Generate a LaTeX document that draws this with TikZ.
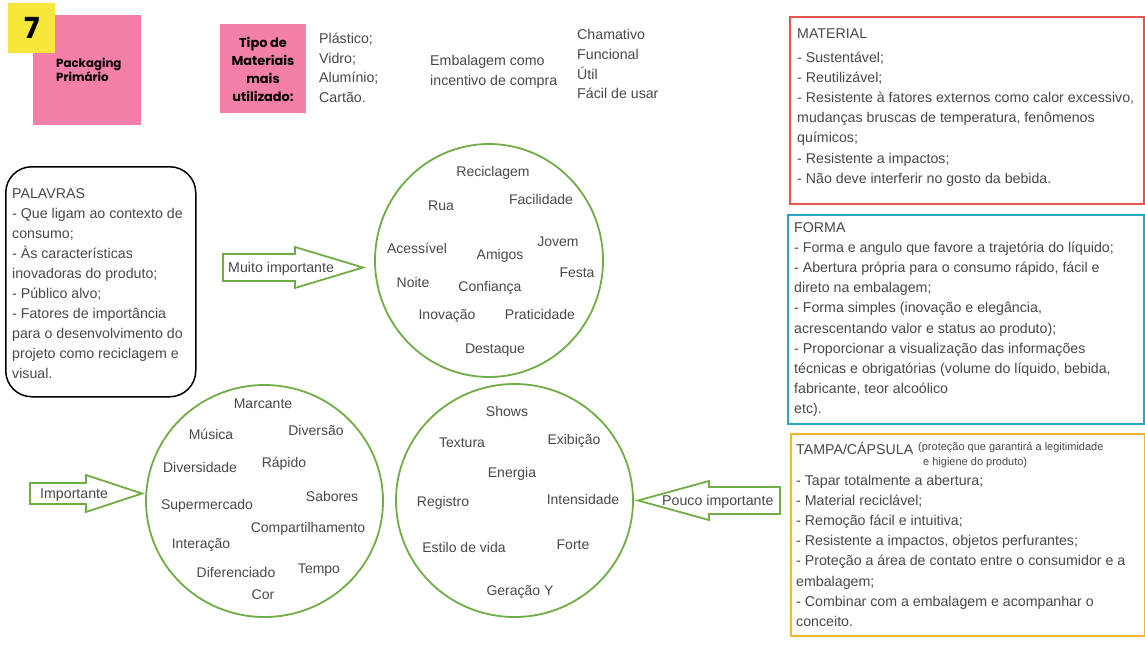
\documentclass[tikz,border=0pt]{standalone}
\usepackage{fontspec}
\setmainfont{Liberation Sans}
\newfontfamily\popfont{Poppins}
\usetikzlibrary{shapes.geometric}

\definecolor{txtgray}{HTML}{484848}
\definecolor{leaf}{HTML}{71AD47}
\definecolor{pinkbox}{HTML}{F57FAB}
\definecolor{yellowbox}{HTML}{F6E73A}
\definecolor{redline}{HTML}{E8534B}
\definecolor{tealline}{HTML}{2AA7BE}
\definecolor{goldline}{HTML}{F2B52C}

% left-aligned and centred line stacks whose base is the first line's baseline
\newcommand\stackl[1]{\begin{tabular}[t]{@{}l@{}}#1\end{tabular}}
\newcommand\stackc[1]{\begin{tabular}[t]{@{}c@{}}#1\end{tabular}}

\begin{document}
\begin{tikzpicture}[x=1pt,y=-1pt,
  body/.style={anchor=base west, inner sep=0pt, text=txtgray,
    font=\fontsize{14.2}{20.1}\selectfont},
  word/.style={anchor=base, inner sep=0pt, text=txtgray,
    font=\fontsize{14}{16}\selectfont},
  ring/.style={ellipse, draw=leaf, line width=1.8pt, inner sep=0pt},
  blockarrow/.style={draw=leaf, line width=1.8pt, fill=white, line join=miter},
  infobox/.style={draw, line width=1.8pt, fill=white, anchor=north west, inner sep=0pt},
  tag/.style={fill=pinkbox, anchor=north west, inner sep=0pt},
  tagtext/.style={inner sep=0pt, text=black,
    font=\popfont\bfseries\fontsize{11.8}{14}\selectfont}]

\useasboundingbox[fill=white] (0,0) rectangle (1145,646);

% ---- header tags ----
\node[tag, minimum width=108pt, minimum height=110pt] (pkg) at (33,15) {};
\node[fill=yellowbox, anchor=north west, inner sep=0pt,
      minimum width=47pt, minimum height=50pt] (num) at (8,3) {};
\node[inner sep=0pt, font=\popfont\bfseries\fontsize{29}{30}\selectfont] (numtext) at (32,28) {7};
\node[tagtext, anchor=base west] (pkgtext) at (56,67) {\stackl{Packaging\\Primário}};

\node[tag, minimum width=86pt, minimum height=89pt] (mat) at (220,24) {};
\node[tagtext, anchor=base, font=\popfont\bfseries\fontsize{12.9}{17.9}\selectfont]
  (mattext) at (263,47.5) {\stackc{Tipo de\\Materiais\\mais\\utilizado:}};

\node[body, font=\fontsize{14.2}{19.7}\selectfont] (matlist) at (319,43.5)
  {\stackl{Plástico;\\Vidro;\\Alumínio;\\Cartão.}};
\node[body, font=\fontsize{14.2}{20}\selectfont] (incent) at (430,65.5)
  {\stackl{Embalagem como\\incentivo de compra}};
\node[body, font=\fontsize{14.2}{19.8}\selectfont] (qual) at (577,39.5)
  {\stackl{Chamativo\\Funcional\\Útil\\Fácil de usar}};

% ---- requirement boxes ----
\node[infobox, draw=redline, minimum width=354pt, minimum height=187pt] (matbox) at (789,16) {};
\node[body] (mathead) at (797,38) {MATERIAL};
\node[body] (matbody) at (797,62.5) {\stackl{%
- Sustentável;\\
- Reutilizável;\\
- Resistente à fatores externos como calor excessivo,\\
mudanças bruscas de temperatura, fenômenos\\
químicos;\\
- Resistente a impactos;\\
- Não deve interferir no gosto da bebida.}};

\node[infobox, draw=tealline, minimum width=356pt, minimum height=209pt] (formbox) at (787,214) {};
\node[body] (formbody) at (794,232.5) {\stackl{%
FORMA\\
- Forma e angulo que favore a trajetória do líquido;\\
- Abertura própria para o consumo rápido, fácil e\\
direto na embalagem;\\
- Forma simples (inovação e elegância,\\
acrescentando valor e status ao produto);\\
- Proporcionar a visualização das informações\\
técnicas e obrigatórias (volume do líquido, bebida,\\
fabricante, teor alcoólico\\
etc).}};

\node[infobox, draw=goldline, minimum width=354pt, minimum height=202pt] (capbox) at (790,433) {};
\node[body] (caphead) at (796,454) {TAMPA/CÁPSULA};
\node[body, font=\fontsize{11}{15}\selectfont] (capnote) at (918,450)
  {\stackl{(proteção que garantirá a legitimidade\\\hspace{5pt}e higiene do produto)}};
\node[body] (capbody) at (796,485.5) {\stackl{%
- Tapar totalmente a abertura;\\
- Material reciclável;\\
- Remoção fácil e intuitiva;\\
- Resistente a impactos, objetos perfurantes;\\
- Proteção a área de contato entre o consumidor e a\\
embalagem;\\
- Combinar com a embalagem e acompanhar o\\
conceito.}};

% ---- word criteria ----
\node[draw=black, line width=1.5pt, rounded corners=26pt, anchor=north west, inner sep=0pt,
      minimum width=190pt, minimum height=230pt] (palbox) at (5,166) {};
\node[body, font=\fontsize{14.2}{20}\selectfont] (paltext) at (12,198.5) {\stackl{%
PALAVRAS\\
- Que ligam ao contexto de\\
consumo;\\
- Às características\\
inovadoras do produto;\\
- Público alvo;\\
- Fatores de importância\\
para o desenvolvimento do\\
projeto como reciclagem e\\
visual.}};

% ---- word circles ----
\node[ring, minimum width=228pt, minimum height=233pt] (c1) at (489,260.5) {};
\node[ring, minimum width=237pt, minimum height=232pt] (c2) at (264.5,501) {};
\node[ring, minimum width=237pt, minimum height=233pt] (c3) at (514.5,500.5) {};

% very important
\node[word] (w11) at (493,176) {Reciclagem};
\node[word] (w12) at (441,210) {Rua};
\node[word] (w13) at (541,204) {Facilidade};
\node[word] (w14) at (417,253) {Acessível};
\node[word] (w15) at (500,259) {Amigos};
\node[word] (w16) at (558,246) {Jovem};
\node[word] (w17) at (577,277) {Festa};
\node[word] (w18) at (413,287) {Noite};
\node[word] (w19) at (490,291) {Confiança};
\node[word] (w110) at (447,319) {Inovação};
\node[word] (w111) at (540,319) {Praticidade};
\node[word] (w112) at (495,353) {Destaque};

% important
\node[word] (w21) at (263,408) {Marcante};
\node[word] (w22) at (211,439) {Música};
\node[word] (w23) at (316,435) {Diversão};
\node[word] (w24) at (200,472) {Diversidade};
\node[word] (w25) at (284,467) {Rápido};
\node[word] (w26) at (207,509) {Supermercado};
\node[word] (w27) at (332,501) {Sabores};
\node[word] (w28) at (308,532) {Compartilhamento};
\node[word] (w29) at (201,548) {Interação};
\node[word] (w210) at (236,577) {Diferenciado};
\node[word] (w211) at (319,573) {Tempo};
\node[word] (w212) at (263,599) {Cor};

% less important
\node[word] (w31) at (507,416) {Shows};
\node[word] (w32) at (462,447) {Textura};
\node[word] (w33) at (574,444) {Exibição};
\node[word] (w34) at (512,477) {Energia};
\node[word] (w35) at (443,506) {Registro};
\node[word] (w36) at (583,504) {Intensidade};
\node[word] (w37) at (464,552) {Estilo de vida};
\node[word] (w38) at (573,549) {Forte};
\node[word] (w39) at (520,595) {Geração Y};

% ---- importance arrows ----
\coordinate (tip1) at (363,267.5);
\draw[blockarrow] (223,254) -- (295,254) -- (295,247) -- (tip1)
  -- (295,288) -- (295,281) -- (223,281) -- cycle;
\node[body] (lab1) at (228,272.5) {Muito importante};

\coordinate (tip2) at (142,493.5);
\draw[blockarrow] (30,483) -- (86,483) -- (86,475) -- (tip2)
  -- (86,512) -- (86,504) -- (30,504) -- cycle;
\node[body] (lab2) at (40,498.5) {Importante};

\coordinate (tip3) at (638,500.5);
\draw[blockarrow] (780,487) -- (709,487) -- (709,481) -- (tip3)
  -- (709,520) -- (709,514) -- (780,514) -- cycle;
\node[body] (lab3) at (662,505.5) {Pouco importante};

\end{tikzpicture}
\end{document}
